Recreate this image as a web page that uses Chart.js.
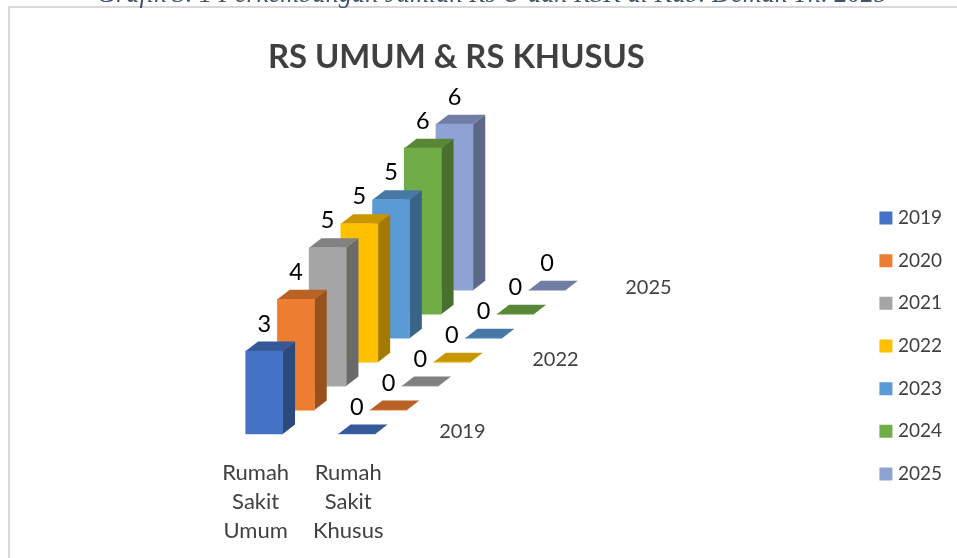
<!DOCTYPE html>
<html><head><meta charset="utf-8">
<style>
html,body{margin:0;padding:0;background:#fff;overflow:hidden}
#frame{position:absolute;left:8px;top:6px;right:-4px;bottom:-4px;border-left:2px solid #d9d9d9;border-top:2px solid #d9d9d9}
canvas{position:absolute;left:0;top:0}
</style>
<script src="https://cdn.jsdelivr.net/npm/chart.js@4"></script>
</head><body>
<div id="frame"></div>
<canvas id="c" width="957" height="558"></canvas>
<script>
const captionText = 'Grafik 3. 1 Perkembangan Jumlah Rs U dan RSK di Kab. Demak Th. 2025';
const chartTitle = 'RS UMUM & RS KHUSUS';
const categories = [['Rumah','Sakit','Umum'],['Rumah','Sakit','Khusus']];
const years = ['2019','2020','2021','2022','2023','2024','2025'];
const rumahSakitUmum = [3,4,5,5,5,6,6];
const rumahSakitKhusus = [0,0,0,0,0,0,0];
const depthTicks = ['2019','2022','2025'];
const colors = ['#4472C4','#ED7D31','#A5A5A5','#FFC000','#5B9BD5','#70AD47','#8FA2D4'];

// oblique projection, in scale units per year of depth
const DEPTH_X = 0.3425, DEPTH_Y = 0.866;
const BOX_DX = 12.3, BOX_DY = 9.5;
const FONT = 'Lato';
const series = [rumahSakitUmum, rumahSakitKhusus];

function shade(hex, f){
  const n = parseInt(hex.slice(1),16);
  return 'rgb('+[(n>>16)&255,(n>>8)&255,n&255].map(v=>Math.round(v*f)).join(',')+')';
}
function poly(ctx, pts, fill){
  ctx.fillStyle = fill; ctx.beginPath();
  pts.forEach((p,i)=> i?ctx.lineTo(p[0],p[1]):ctx.moveTo(p[0],p[1]));
  ctx.closePath(); ctx.fill();
}
const box3d = {
  id:'box3d',
  afterLayout(chart){
    const l = chart.legend; l.top += 67; l.bottom += 67;
  },
  beforeDraw(chart){
    const ctx = chart.ctx; ctx.save();
    ctx.font = 'italic 26.4px "Liberation Serif"';
    ctx.fillStyle = '#44546A'; ctx.textAlign='left'; ctx.textBaseline='alphabetic';
    ctx.fillText(captionText, 97, 2);
    ctx.restore();
  },
  beforeDatasetDraw(chart, args){
    const ctx = chart.ctx, c = colors[args.index];
    args.meta.data.forEach(el=>{
      const l = el.x-el.width/2, r = el.x+el.width/2, t = el.y, b = el.base;
      poly(ctx,[[r,t],[r,b],[r+BOX_DX,b-BOX_DY],[r+BOX_DX,t-BOX_DY]],shade(c,.64));
      poly(ctx,[[l,t],[r,t],[r+BOX_DX,t-BOX_DY],[l+BOX_DX,t-BOX_DY]],shade(c,.78));
    });
  },
  afterDatasetsDraw(chart){
    const ctx = chart.ctx, sx = chart.scales.x, sy = chart.scales.y;
    ctx.save(); ctx.textAlign='center'; ctx.textBaseline='middle';
    ctx.font = '23.5px '+FONT; ctx.fillStyle='#000';
    chart.data.datasets.forEach((d,i)=>{
      chart.getDatasetMeta(i).data.forEach((el,c)=>{
        ctx.fillText(String(series[c][i]), el.x, el.y-27);
      });
    });
    ctx.font = '20px '+FONT; ctx.fillStyle='#404040';
    depthTicks.forEach(t=>{
      const i = years.indexOf(t);
      ctx.fillText(t, sx.getPixelForValue(2.14+i*0.335), sy.getPixelForValue(0.09+i*DEPTH_Y));
    });
    ctx.restore();
  }
};
new Chart(document.getElementById('c'),{
  type:'bar',
  data:{datasets: years.map((y,i)=>({
    label:y, backgroundColor:colors[i], borderWidth:0,
    barThickness:37, grouped:false, clip:false,
    pointStyle:'rect',
    data: series.map((s,c)=>({x:c+i*DEPTH_X, y:[i*DEPTH_Y, i*DEPTH_Y+s[i]]}))
  }))},
  options:{
    responsive:false, animation:false, devicePixelRatio:1,
    layout:{padding:{left:53,right:5,top:0,bottom:0}},
    scales:{
      x:{type:'linear',min:-2.282,max:6.433,offset:false,
        grid:{display:false,drawTicks:false},border:{display:false},
        afterBuildTicks(s){ s.ticks = categories.map((_,i)=>({value:i})); },
        afterFit(s){ s.height = 110; },
        ticks:{autoSkip:false,maxRotation:0,padding:10.5,labelOffset:-8.6,color:'#404040',
          font:{family:FONT,size:22,lineHeight:'29px'},
          callback:v=>categories[v]}
      },
      y:{display:false,min:-0.505,max:12.78}
    },
    plugins:{
      title:{display:true,text:chartTitle,fullSize:false,color:'#404040',
        font:{family:FONT,size:32.8,weight:'bold',lineHeight:1.2},padding:{top:38,bottom:3}},
      legend:{position:'right',
        labels:{usePointStyle:true,pointStyle:'rect',boxWidth:5,boxHeight:13,padding:23.67,color:'#404040',
          font:{family:FONT,size:19}}},
      tooltip:{enabled:false}
    }
  },
  plugins:[box3d]
});
</script>
</body></html>
